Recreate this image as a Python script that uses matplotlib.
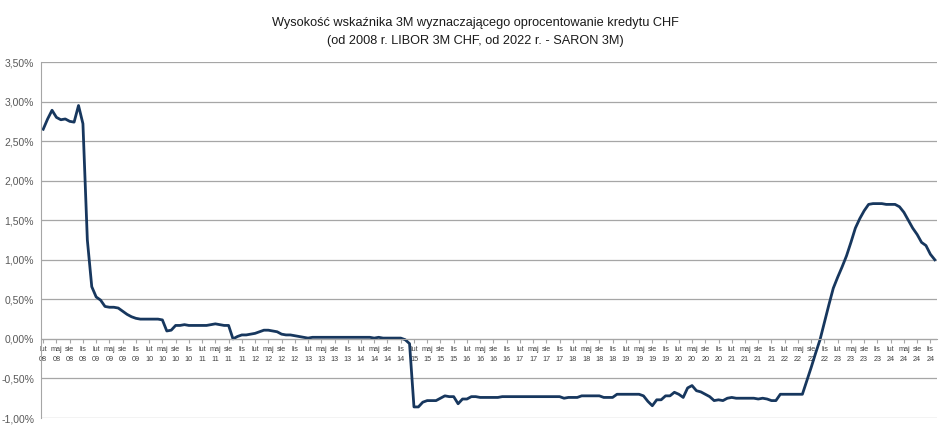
import matplotlib
matplotlib.use('Agg')
import matplotlib.pyplot as plt
import numpy as np

plt.rcParams['font.family'] = ['Liberation Sans', 'DejaVu Sans']

# miesiące (polskie skróty) - dane od lut 2008 do gru 2024
miesiace = ['sty', 'lut', 'mar', 'kwi', 'maj', 'cze',
            'lip', 'sie', 'wrz', 'paź', 'lis', 'gru']
rok_start = 2008
mies_start = 1  # indeks 'lut'

# wartości wskaźnika w %
v2008 = [2.65, 2.78, 2.89, 2.80, 2.77, 2.78, 2.75, 2.74, 2.95, 2.72, 1.25]
v2009 = [0.66, 0.53, 0.49, 0.41, 0.40, 0.40, 0.39, 0.35, 0.31, 0.28, 0.26, 0.25]
v2010 = [0.25, 0.25, 0.25, 0.25, 0.24, 0.10, 0.11, 0.17, 0.17, 0.18, 0.17, 0.17]
v2011 = [0.17, 0.17, 0.17, 0.18, 0.19, 0.18, 0.17, 0.17, 0.00, 0.03, 0.05, 0.05]
v2012 = [0.06, 0.07, 0.09, 0.11, 0.11, 0.10, 0.09, 0.06, 0.05, 0.05, 0.04, 0.03]
v2013 = [0.02, 0.01, 0.02, 0.02, 0.02, 0.02, 0.02, 0.02, 0.02, 0.02, 0.02, 0.02]
v2014 = [0.02, 0.02, 0.02, 0.02, 0.01, 0.02, 0.01, 0.01, 0.01, 0.01, 0.01, -0.01]
v2015 = [-0.06, -0.86, -0.86, -0.80, -0.78, -0.78, -0.78, -0.75, -0.72, -0.73, -0.73, -0.82]
v2016 = [-0.76, -0.76, -0.73, -0.73, -0.74, -0.74, -0.74, -0.74, -0.74, -0.73, -0.73, -0.73]
v2017 = [-0.73, -0.73, -0.73, -0.73, -0.73, -0.73, -0.73, -0.73, -0.73, -0.73, -0.73, -0.75]
v2018 = [-0.74, -0.74, -0.74, -0.72, -0.72, -0.72, -0.72, -0.72, -0.74, -0.74, -0.74, -0.70]
v2019 = [-0.70, -0.70, -0.70, -0.70, -0.70, -0.72, -0.79, -0.845, -0.77, -0.77, -0.72, -0.72]
v2020 = [-0.675, -0.70, -0.74, -0.62, -0.59, -0.655, -0.67, -0.70, -0.73, -0.78, -0.77, -0.78]
v2021 = [-0.75, -0.74, -0.75, -0.75, -0.75, -0.75, -0.75, -0.76, -0.75, -0.76, -0.78, -0.78]
v2022 = [-0.70, -0.70, -0.70, -0.70, -0.70, -0.70, -0.53, -0.36, -0.18, -0.01, 0.21, 0.43]
v2023 = [0.64, 0.78, 0.91, 1.05, 1.22, 1.40, 1.52, 1.62, 1.70, 1.71, 1.71, 1.71]
v2024 = [1.70, 1.70, 1.70, 1.67, 1.60, 1.50, 1.40, 1.32, 1.22, 1.18, 1.07, 1.00]

wartosci = (v2008 + v2009 + v2010 + v2011 + v2012 + v2013 + v2014 + v2015 +
            v2016 + v2017 + v2018 + v2019 + v2020 + v2021 + v2022 + v2023 + v2024)

n = len(wartosci)
x = np.arange(n)

# etykiety co 3 miesiące: lut, maj, sie, lis
etykiety = []
for i in range(n):
    m = (mies_start + i) % 12
    r = rok_start + (mies_start + i) // 12
    etykiety.append(miesiace[m] + '\n' + str(r)[2:])

fig = plt.figure(figsize=(9.48, 4.36), dpi=100)
ax = fig.add_axes([41/948, 1 - 418/436, (937 - 41)/948, (418 - 62)/436])

ax.plot(x, wartosci, color='#17375e', lw=2.0, solid_joinstyle='round')

ax.set_xlim(-0.5, n - 0.5)
ax.set_ylim(-1.0, 3.5)
ax.set_yticks(np.arange(-1.0, 3.51, 0.5))
ax.set_yticklabels([('%.2f%%' % v).replace('.', ',') for v in np.arange(-1.0, 3.51, 0.5)])
ax.yaxis.grid(True, color='#a6a6a6', lw=0.9)
ax.set_axisbelow(True)

ax.spines['bottom'].set_position(('data', 0))
ax.spines['bottom'].set_color('#a6a6a6')
ax.spines['left'].set_color('#a6a6a6')
ax.spines['top'].set_visible(False)
ax.spines['right'].set_visible(False)
ax.tick_params(axis='x', length=3, color='#a6a6a6', pad=2,
               labelsize=5.2, labelcolor='#404040')
ax.tick_params(axis='y', length=0, pad=5, labelsize=7.5, labelcolor='#595959')

ax.set_xticks(x[::3])
ax.set_xticklabels(etykiety[::3], linespacing=1.7)

fig.text(0.501, 0.927,
         'Wysokość wskaźnika 3M wyznaczającego oprocentowanie kredytu CHF\n'
         '(od 2008 r. LIBOR 3M CHF, od 2022 r. - SARON 3M)',
         ha='center', va='center', fontsize=9.2, color='#1a1a1a', linespacing=1.6)

fig.savefig('out.png', dpi=100)
